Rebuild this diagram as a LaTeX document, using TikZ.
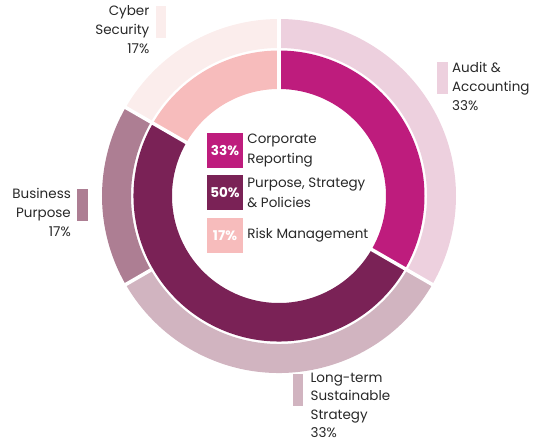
\documentclass[tikz,border=0pt]{standalone}
\usepackage{fontspec}
\setmainfont{Poppins}
\usetikzlibrary{positioning}
\definecolor{corpMagenta}{RGB}{190,28,125}
\definecolor{stratPurple}{RGB}{122,34,86}
\definecolor{riskPink}{RGB}{247,188,188}
\definecolor{auditPink}{RGB}{237,208,222}
\definecolor{longMauve}{RGB}{209,180,192}
\definecolor{bizMauve}{RGB}{173,126,147}
\definecolor{cyberPink}{RGB}{251,237,236}
\definecolor{labelGray}{RGB}{40,40,40}
\tikzstyle{legendbox}=[minimum width=36pt, minimum height=35pt, inner sep=0pt, text=white, font=\bfseries\fontsize{13.5}{15}\selectfont]
\tikzstyle{legendtext}=[anchor=west, align=left, inner sep=0pt, text=labelGray, font=\fontsize{13.5}{19.5}\selectfont]
\tikzstyle{keybar}=[minimum width=10.5pt, minimum height=32pt, inner sep=0pt]
\tikzstyle{labeltext}=[inner sep=0pt, text=labelGray, font=\fontsize{13.5}{19}\selectfont]
\tikzstyle{separator}=[white, line width=3.5pt]
% ring segment: colour, start angle, end angle, inner radius, outer radius
\newcommand{\ringseg}[5]{\fill[#1] (#2:#5pt) arc[start angle=#2, end angle=#3, radius=#5pt] -- (#3:#4pt) arc[start angle=#3, end angle=#2, radius=#4pt] -- cycle;}

\begin{document}
\begin{tikzpicture}[x=1pt,y=1pt]
    \useasboundingbox (-279,-249) rectangle (257,196);

    % outer ring
    \ringseg{auditPink}{90}{-30}{148}{177}
    \ringseg{longMauve}{-30}{-150}{148}{177}
    \ringseg{bizMauve}{-150}{-210}{148}{177}
    \ringseg{cyberPink}{150}{90}{148}{177}

    % inner ring
    \ringseg{corpMagenta}{90}{-30}{107}{145.5}
    \ringseg{stratPurple}{-30}{-210}{107}{145.5}
    \ringseg{riskPink}{150}{90}{107}{145.5}

    % gaps
    \foreach \a in {90,-30,150}
        \draw[separator] (0,0) -- (\a:182pt);
    \draw[separator] (210:146pt) -- (210:182pt);

    % legend in the middle
    \node[legendbox, fill=corpMagenta] (b1) at (-54,45.5) {33\%};
    \node[legendbox, fill=stratPurple, below=7pt of b1] (b2) {50\%};
    \node[legendbox, fill=riskPink, below=7pt of b2] (b3) {17\%};
    \node[legendtext, right=4pt of b1] (t1) {Corporate\\Reporting};
    \node[legendtext, right=4pt of b2] (t2) {Purpose, Strategy\\\& Policies};
    \node[legendtext, right=4pt of b3] (t3) {Risk Management};

    % outer labels
    \node[keybar, fill=cyberPink] (bar1) at (-118,174) {};
    \node[labeltext, align=right, anchor=north east] (lab1) at ([xshift=-6pt]bar1.north west) {Cyber\\Security\\17\%};

    \node[keybar, fill=auditPink] (bar2) at (163.5,118) {};
    \node[labeltext, align=left, anchor=north west] (lab2) at ([xshift=4pt]bar2.north east) {Audit \&\\Accounting\\33\%};

    \node[keybar, fill=bizMauve] (bar3) at (-196.5,-8.5) {};
    \node[labeltext, align=right, anchor=north east] (lab3) at ([xshift=-6pt]bar3.north west) {Business\\Purpose\\17\%};

    \node[keybar, fill=longMauve] (bar4) at (19,-194) {};
    \node[labeltext, align=left, anchor=north west, font=\fontsize{13.5}{18.5}\selectfont] (lab4) at ([xshift=7pt,yshift=1pt]bar4.north east) {Long-term\\Sustainable\\Strategy\\33\%};
\end{tikzpicture}
\end{document}
